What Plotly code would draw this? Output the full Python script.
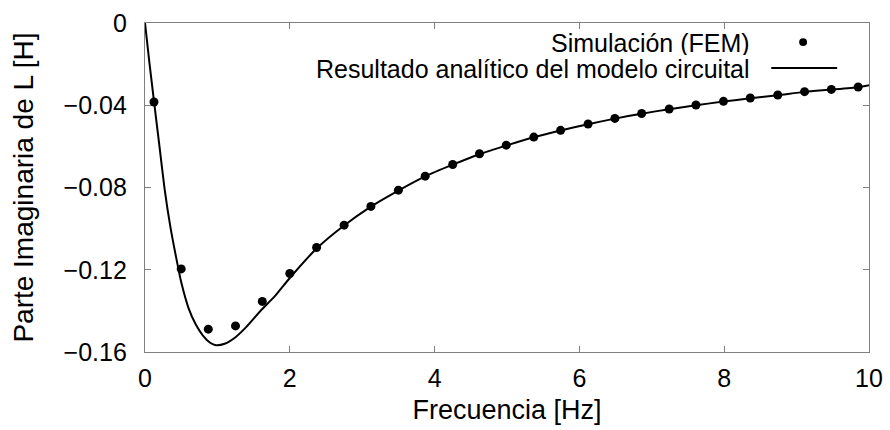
import plotly.graph_objects as go

# Simulated (FEM) imaginary part of the inductance
freq_fem = [0.124, 0.50, 0.874, 1.25, 1.62, 2.0, 2.37, 2.75, 3.12, 3.50, 3.87, 4.25,
            4.62, 4.99, 5.37, 5.74, 6.12, 6.49, 6.86, 7.24, 7.61, 7.99, 8.36, 8.74,
            9.11, 9.48, 9.85]
im_fem = [-0.0384, -0.1196, -0.1489, -0.1473, -0.1354, -0.1218, -0.1092, -0.0983,
          -0.0892, -0.0813, -0.0745, -0.0688, -0.0636, -0.0594, -0.0555, -0.0522,
          -0.0491, -0.0464, -0.0440, -0.0418, -0.0399, -0.0381, -0.0365, -0.0350,
          -0.0334, -0.0323, -0.0311]

# Analytical result from the circuit model
freq_model = [0, 0.06, 0.124, 0.2, 0.272, 0.35, 0.43, 0.5, 0.6, 0.7, 0.8, 0.9, 0.98,
              1.1, 1.25, 1.4, 1.6, 1.8, 2.0, 2.37, 2.75, 3.12, 3.5, 3.87, 4.25, 4.62,
              5.0, 5.37, 5.74, 6.12, 6.49, 6.86, 7.24, 7.61, 7.99, 8.36, 8.74, 9.11,
              9.48, 9.85, 10.0]
im_model = [0, -0.019, -0.038, -0.060, -0.081, -0.099, -0.114, -0.126, -0.1385,
            -0.1465, -0.152, -0.1555, -0.1567, -0.156, -0.1528, -0.1478, -0.1398,
            -0.1326, -0.1240, -0.1097, -0.0985, -0.0893, -0.0815, -0.0746, -0.0689,
            -0.0638, -0.0595, -0.0556, -0.0523, -0.0492, -0.0465, -0.0441, -0.0419,
            -0.0400, -0.0382, -0.0366, -0.0351, -0.0335, -0.0324, -0.0312, -0.0303]

x_ticks = [0, 2, 4, 6, 8, 10]
y_ticks = [0, -0.04, -0.08, -0.12, -0.16]
y_tick_text = ["0", "\u22120.04", "\u22120.08", "\u22120.12", "\u22120.16"]

label_fem = "Simulación (FEM)"
label_model = "Resultado analítico del modelo circuital"

FONT = "Liberation Sans, Arial, sans-serif"
FRAME = "#808080"

fig = go.Figure()
fig.add_trace(go.Scatter(
    x=freq_model, y=im_model, mode="lines", name=label_model,
    line=dict(color="black", width=2, shape="spline", smoothing=0.6),
    showlegend=False,
))
fig.add_trace(go.Scatter(
    x=freq_fem, y=im_fem, mode="markers", name=label_fem,
    marker=dict(color="black", size=9),
    showlegend=False,
))

axis_common = dict(
    showgrid=False, zeroline=False, showline=True, linecolor=FRAME, linewidth=1.3,
    mirror="ticks", ticks="inside", ticklen=6, tickcolor=FRAME, tickwidth=1.3,
    tickfont=dict(family=FONT, size=25, color="black"), automargin=False,
)

fig.update_layout(
    width=890, height=430,
    margin=dict(l=145, r=21, t=23, b=78),
    paper_bgcolor="white", plot_bgcolor="white",
    font=dict(family=FONT, color="black"),
    xaxis=dict(
        range=[0, 10], tickvals=x_ticks, ticktext=[str(v) for v in x_ticks],
        ticklabelstandoff=4,
        title=dict(text="Frecuencia [Hz]", font=dict(family=FONT, size=27), standoff=8),
        **axis_common,
    ),
    yaxis=dict(
        range=[-0.16, 0], tickvals=y_ticks, ticktext=y_tick_text,
        ticklabelstandoff=12,
        title=dict(text="Parte Imaginaria de L [H]", font=dict(family=FONT, size=28), standoff=21),
        **axis_common,
    ),
)

# Legend drawn in the top-right corner: label text on the left, key on the right
legend_font = dict(family=FONT, size=25, color="black")
for label, ypos in [(label_fem, 0.942), (label_model, 0.863)]:
    fig.add_annotation(xref="paper", yref="paper", x=0.838, y=ypos, text=label,
                       showarrow=False, xanchor="right", yanchor="middle",
                       height=25, valign="middle", font=legend_font)
fig.add_shape(type="circle", xref="paper", yref="paper",
              x0=0.909 - 0.0055, x1=0.909 + 0.0055, y0=0.942 - 0.012, y1=0.942 + 0.012,
              fillcolor="black", line=dict(color="black", width=0))
fig.add_shape(type="line", xref="paper", yref="paper",
              x0=0.865, x1=0.956, y0=0.863, y1=0.863,
              line=dict(color="black", width=2))

fig.write_html("out.html")
